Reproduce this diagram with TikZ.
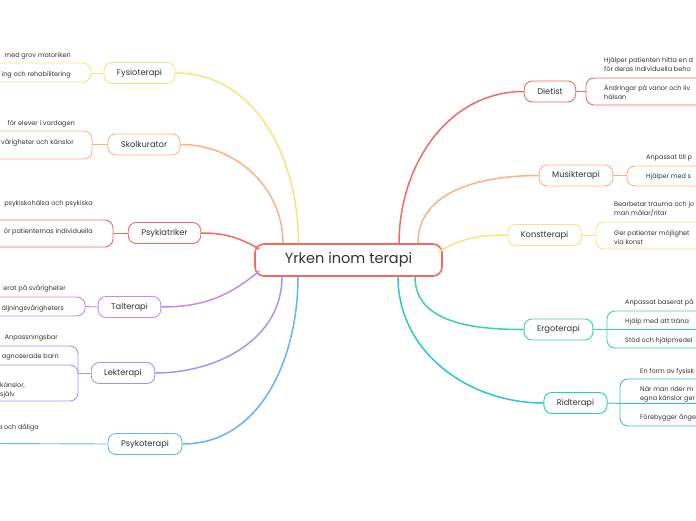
\documentclass[tikz,border=0pt]{standalone}
\usepackage{fontspec}
\setmainfont{Poppins}
\usepackage{tikz}
\usetikzlibrary{calc}
\definecolor{coral}{HTML}{F26B63}
\definecolor{peach}{HTML}{FFB084}
\definecolor{sun}{HTML}{F8E47C}
\definecolor{orchid}{HTML}{C88AEA}
\definecolor{lilac}{HTML}{A495F3}
\definecolor{sky}{HTML}{66B4F5}
\definecolor{mint}{HTML}{3FD2A2}
\definecolor{aqua}{HTML}{2BC6D3}
\definecolor{ink}{HTML}{333333}

\begin{document}
\begin{tikzpicture}[
  x=1pt,y=-1pt,
  every node/.style={font=\fontsize{6.5}{9}\selectfont,text=ink},
  hub/.style={draw=coral,line width=1.6pt,fill=white,rounded corners=9pt,minimum height=32pt,minimum width=187pt,font=\fontsize{14.5}{16}\selectfont},
  topic/.style={draw=#1,line width=.9pt,fill=white,rounded corners=8pt,minimum height=21pt,inner xsep=13pt,font=\fontsize{8.3}{10}\selectfont},
  link/.style={draw=#1,line width=1.5pt},
  rim/.style={draw=#1,line width=.9pt,rounded corners=8pt},
  lr/.style={anchor=west,align=left,inner sep=0pt},
  ll/.style={anchor=east,align=left,inner sep=0pt}
]
\fill[white] (0,0) rectangle (696,520);
\useasboundingbox (0,0) rectangle (696,520);

% centre and branches
\node[hub] (ctr) at (348.5,260) {Yrken inom terapi};
\node[topic=sun] (fys) at (139.5,73) {Fysioterapi};
\node[topic=peach] (sko) at (144,144.5) {Skolkurator};
\node[topic=coral] (psy) at (164.5,233) {Psykiatriker};
\node[topic=orchid] (tal) at (129.5,307) {Talterapi};
\node[topic=lilac] (lek) at (123,373) {Lekterapi};
\node[topic=sky] (pst) at (145,444) {Psykoterapi};
\node[topic=coral] (die) at (550,91.5) {Dietist};
\node[topic=peach] (mus) at (576,175.5) {Musikterapi};
\node[topic=sun] (kon) at (544.5,235) {Konstterapi};
\node[topic=mint] (erg) at (558.5,329.5) {Ergoterapi};
\node[topic=aqua] (rid) at (575.5,403) {Ridterapi};

\draw[link=sun] (fys.east) to[out=0,in=90] ($(ctr.north)+(-50,0)$);
\draw[link=peach] (sko.east) to[out=0,in=90] ($(ctr.north)+(-65.5,0)$);
\draw[link=coral] (psy.east) to[out=0,in=150] ($(ctr.west)+(5,-11)$);
\draw[link=orchid] (tal.east) to[out=0,in=-140] ($(ctr.west)+(5,11)$);
\draw[link=lilac] (lek.east) to[out=0,in=-90] ($(ctr.south)+(-66.5,0)$);
\draw[link=sky] (pst.east) to[out=0,in=-90] ($(ctr.south)+(-50.5,0)$);
\draw[link=coral] (die.west) to[out=180,in=90] ($(ctr.north)+(50.5,0)$);
\draw[link=peach] (mus.west) to[out=180,in=90] ($(ctr.north)+(69.5,0)$);
\draw[link=sun] (kon.west) to[out=180,in=30] ($(ctr.east)+(-5,-8)$);
\draw[link=mint] (erg.west) to[out=180,in=-90] ($(ctr.south)+(66.5,0)$);
\draw[link=aqua] (rid.west) to[out=180,in=-90] ($(ctr.south)+(49.5,0)$);

% left leaves
\coordinate (fysF) at (91,73);
\draw[rim=sun] (-4,63) -- (91,63) -- (91,82) -- (-4,82);
\draw[rim=sun] (fysF) -- (fys.west);
\node[ll] (fys1) at (71,56) {med grov motoriken};
\node[ll] (fys2) at (71,75) {ing och rehabilitering};

\coordinate (skoF) at (92,144.5);
\draw[rim=peach] (-4,131) -- (92,131) -- (92,159) -- (-4,159);
\draw[rim=peach] (skoF) -- (sko.west);
\node[ll] (sko1) at (75,124) {för elever i vardagen};
\node[ll] (sko2) at (74,143) {vårigheter och känslor};

\coordinate (psyF) at (113,233);
\draw[rim=coral] (-4,220) -- (113,220) -- (113,247) -- (-4,247);
\draw[rim=coral] (psyF) -- (psy.west);
\node[ll] (psy1) at (93,204) {psykiskohälsa och psykiska};
\node[ll] (psy2) at (93,232) {ör patienternas individuella};

\coordinate (talF) at (85,306.5);
\draw[rim=orchid] (-4,297) -- (85,297) -- (85,316) -- (-4,316);
\draw[rim=orchid] (talF) -- (tal.west);
\node[ll] (tal1) at (66,289) {erat på svårigheter};
\node[ll] (tal2) at (64,309) {äljningsvårigheters};

\coordinate (lekF) at (78,373);
\draw[rim=lilac] (-4,346) -- (78,346) -- (78,401) -- (-4,401);
\draw[rim=lilac] (-4,365) -- (78,365) -- (78,373);
\draw[rim=lilac] (lekF) -- (lek.west);
\node[ll] (lek1) at (58,338) {Anpassningsbar};
\node[ll] (lek2) at (59,357) {agnoserade barn};
\node[lr] (lek3) at (0,390) {känslor,\\själv};

\coordinate (pstF) at (-4,443.5);
\draw[rim=sky] (pstF) -- (pst.west);
\node[ll] (pst1) at (39,428) {a och dåliga};

% right leaves
\coordinate (dieF) at (586,91.5);
\draw[rim=coral] (700,78) -- (586,78) -- (586,105) -- (700,105);
\draw[rim=coral] (die.east) -- (dieF);
\node[lr] (die1) at (604,64.5) {Hjälper patienten hitta en d\\för deras individuella beho};
\node[lr] (die2) at (604,92.5) {Ändringar på vanor och liv\\hälsan};

\coordinate (musF) at (627,175.5);
\draw[rim=peach] (700,166) -- (627,166) -- (627,186) -- (700,186);
\draw[rim=peach] (mus.east) -- (musF);
\node[lr] (mus1) at (646,158) {Anpassat till p};
\node[lr] (mus2) at (646,177) {Hjälper med s};

\coordinate (konF) at (596,235);
\draw[rim=sun] (700,222) -- (596,222) -- (596,249) -- (700,249);
\draw[rim=sun] (kon.east) -- (konF);
\node[lr] (kon1) at (614,209.5) {Bearbetar trauma och jo\\man målar/ritar};
\node[lr] (kon2) at (614,237.5) {Ger patienter möjlighet\\via konst};

\coordinate (ergF) at (607,329.5);
\draw[rim=mint] (700,311) -- (607,311) -- (607,348) -- (700,348);
\draw[rim=mint] (ergF) -- (700,329.5);
\draw[rim=mint] (erg.east) -- (ergF);
\node[lr] (erg1) at (625,303) {Anpassat baserat på};
\node[lr] (erg2) at (625,322) {Hjälp med att träna};
\node[lr] (erg3) at (625,341) {Stöd och hjälpmedel};

\coordinate (ridF) at (620,403.5);
\draw[rim=aqua] (700,379) -- (620,379) -- (620,426) -- (700,426);
\draw[rim=aqua] (ridF) -- (700,403.5);
\draw[rim=aqua] (rid.east) -- (ridF);
\node[lr] (rid1) at (640,372) {En form av fysisk};
\node[lr] (rid2) at (640,394.5) {När man rider m\\egna känslor ger};
\node[lr] (rid3) at (640,418) {Förebygger ånge};
\end{tikzpicture}
\end{document}
